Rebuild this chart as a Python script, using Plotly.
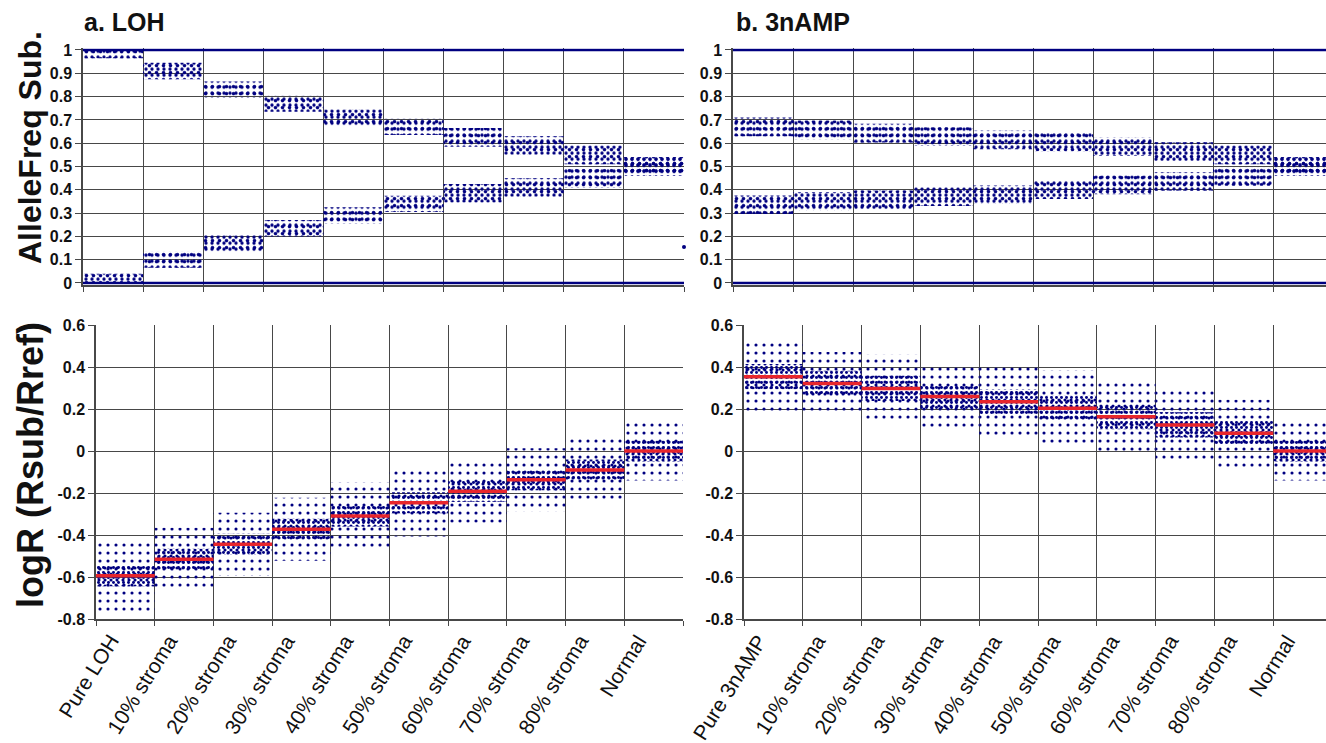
import plotly.graph_objects as go

# ---------------- data ----------------
categories_loh = ["Pure LOH", "10% stroma", "20% stroma", "30% stroma", "40% stroma",
                  "50% stroma", "60% stroma", "70% stroma", "80% stroma", "Normal"]
categories_amp = ["Pure 3nAMP", "10% stroma", "20% stroma", "30% stroma", "40% stroma",
                  "50% stroma", "60% stroma", "70% stroma", "80% stroma", "Normal"]

# B-allele frequency heterozygous clusters (centre and half-width of each cloud)
baf_loh_upper = [0.985, 0.91, 0.83, 0.77, 0.71, 0.67, 0.625, 0.59, 0.55, 0.50]
baf_loh_lower = [0.02, 0.10, 0.17, 0.235, 0.29, 0.34, 0.385, 0.41, 0.45, 0.50]
baf_loh_halfwidth = [0.02, 0.035, 0.035, 0.035, 0.035, 0.035, 0.04, 0.04, 0.04, 0.04]

baf_amp_upper = [0.67, 0.657, 0.643, 0.629, 0.614, 0.605, 0.586, 0.564, 0.55, 0.50]
baf_amp_lower = [0.336, 0.35, 0.357, 0.371, 0.379, 0.40, 0.421, 0.436, 0.457, 0.50]
baf_amp_halfwidth = [0.04, 0.04, 0.04, 0.04, 0.04, 0.04, 0.04, 0.04, 0.04, 0.04]

homozygous_levels = [0.0, 1.0]
baf_outlier_x = [10.0]
baf_outlier_y = [0.155]

# logR clouds: median (red line), dense core half-width, sparse outer half-width
logr_loh_median = [-0.594, -0.515, -0.444, -0.373, -0.31, -0.247, -0.192, -0.137, -0.09, 0.0]
logr_loh_core = [0.05, 0.05, 0.05, 0.05, 0.05, 0.05, 0.05, 0.05, 0.05, 0.05]
logr_loh_outer = [0.17, 0.15, 0.15, 0.15, 0.16, 0.16, 0.15, 0.15, 0.15, 0.14]

logr_amp_median = [0.354, 0.322, 0.298, 0.259, 0.235, 0.203, 0.163, 0.124, 0.084, 0.0]
logr_amp_core = [0.06, 0.06, 0.06, 0.06, 0.06, 0.06, 0.06, 0.06, 0.06, 0.05]
logr_amp_outer = [0.17, 0.15, 0.16, 0.16, 0.17, 0.18, 0.17, 0.17, 0.16, 0.14]

baf_tickvals = [0, 0.1, 0.2, 0.3, 0.4, 0.5, 0.6, 0.7, 0.8, 0.9, 1.0]
baf_ticktext = ["0", "0.1", "0.2", "0.3", "0.4", "0.5", "0.6", "0.7", "0.8", "0.9", "1"]
logr_tickvals = [-0.8, -0.6, -0.4, -0.2, 0, 0.2, 0.4, 0.6]
logr_ticktext = ["-0.8", "-0.6", "-0.4", "-0.2", "0", "0.2", "0.4", "0.6"]

# ---------------- styling ----------------
NAVY = "#000080"
RED = "#e8262c"
GRID = "#484848"
FONT = "Liberation Sans"
W, H = 1326, 743

fig = go.Figure()


def band(xa, ya, centres, halfw, lo_clip, hi_clip, size, solidity):
    n = len(centres)
    lo = [max(lo_clip, c - h) for c, h in zip(centres, halfw)]
    hi = [min(hi_clip, c + h) for c, h in zip(centres, halfw)]
    fig.add_trace(go.Bar(
        x=[i + 0.5 for i in range(n)], y=[b - a for a, b in zip(lo, hi)], base=lo,
        width=1.0, xaxis=xa, yaxis=ya, showlegend=False, hoverinfo="skip",
        marker=dict(color="rgba(0,0,0,0)", line=dict(width=0),
                    pattern=dict(shape=".", fgcolor=NAVY, fgopacity=1.0,
                                 bgcolor="rgba(0,0,0,0)",
                                 size=size, solidity=solidity, fillmode="overlay")),
    ))


def homozygous(xa, ya, n):
    for lev in homozygous_levels:
        fig.add_trace(go.Scatter(x=[0, n], y=[lev, lev], mode="lines", xaxis=xa, yaxis=ya,
                                 line=dict(color=NAVY, width=2.5), showlegend=False,
                                 hoverinfo="skip"))


def median_line(xa, ya, med):
    xs, ys = [], []
    for i, m in enumerate(med):
        xs += [i, i + 1, None]
        ys += [m, m, None]
    fig.add_trace(go.Scatter(x=xs, y=ys, mode="lines", xaxis=xa, yaxis=ya,
                             line=dict(color=RED, width=3.5), showlegend=False,
                             hoverinfo="skip"))


# top-left: LOH allele frequency
for cen in (baf_loh_upper, baf_loh_lower):
    band("x", "y", cen, baf_loh_halfwidth, 0, 1, 6, 0.24)
    band("x", "y", cen, baf_loh_halfwidth, 0, 1, 7, 0.2)
homozygous("x", "y", len(categories_loh))
fig.add_trace(go.Scatter(x=baf_outlier_x, y=baf_outlier_y, mode="markers", xaxis="x", yaxis="y",
                         marker=dict(color=NAVY, size=4), showlegend=False, cliponaxis=False,
                         hoverinfo="skip"))

# top-right: 3nAMP allele frequency
for cen in (baf_amp_upper, baf_amp_lower):
    band("x2", "y2", cen, baf_amp_halfwidth, 0, 1, 6, 0.24)
    band("x2", "y2", cen, baf_amp_halfwidth, 0, 1, 7, 0.2)
homozygous("x2", "y2", len(categories_amp))

# bottom-left: LOH logR
band("x3", "y3", logr_loh_median, logr_loh_outer, -0.8, 0.6, 8, 0.12)
band("x3", "y3", logr_loh_median, logr_loh_core, -0.8, 0.6, 5, 0.28)
band("x3", "y3", logr_loh_median, logr_loh_core, -0.8, 0.6, 6, 0.22)
median_line("x3", "y3", logr_loh_median)

# bottom-right: 3nAMP logR
band("x4", "y4", logr_amp_median, logr_amp_outer, -0.8, 0.6, 8, 0.12)
band("x4", "y4", logr_amp_median, logr_amp_core, -0.8, 0.6, 5, 0.28)
band("x4", "y4", logr_amp_median, logr_amp_core, -0.8, 0.6, 6, 0.22)
median_line("x4", "y4", logr_amp_median)


def px_x(a, b):
    return [a / W, min(1.0, b / W)]


def px_y(top, bottom):
    return [1 - bottom / H, 1 - top / H]


def xaxis(domain, rng, anchor):
    return dict(domain=domain, range=rng, anchor=anchor, fixedrange=True, automargin=False,
                tickmode="linear", tick0=0, dtick=1, showticklabels=False,
                ticks="outside", ticklen=5, tickcolor=GRID,
                showgrid=True, gridcolor=GRID, gridwidth=1.2,
                showline=True, linecolor=GRID, linewidth=1.5, zeroline=False)


def yaxis(domain, rng, anchor, tv, tt):
    return dict(domain=domain, range=rng, anchor=anchor, fixedrange=True, automargin=False,
                tickmode="array", tickvals=tv, ticktext=tt, ticks="outside", ticklen=6,
                tickcolor=GRID, showgrid=True, gridcolor=GRID, gridwidth=1.2,
                showline=True, linecolor=GRID, linewidth=1.5, zeroline=False,
                tickfont=dict(family=FONT, size=16, color="#111", weight="bold"))


baf_range = [-0.008, 1.008]
top_dom = px_y(50 - 0.008 * 233, 283 + 0.008 * 233)
bot_dom = px_y(325, 619)

annotations = [
    dict(text="<b>a. LOH</b>", x=82 / W, y=1 - 6 / H, xref="paper", yref="paper",
         xanchor="left", yanchor="top", showarrow=False,
         font=dict(family=FONT, size=25, color="#111")),
    dict(text="<b>b. 3nAMP</b>", x=734 / W, y=1 - 6 / H, xref="paper", yref="paper",
         xanchor="left", yanchor="top", showarrow=False,
         font=dict(family=FONT, size=25, color="#111")),
    dict(text="<b>AlleleFreq Sub.</b>", x=30 / W, y=1 - 148 / H, xref="paper", yref="paper",
         xanchor="center", yanchor="middle", textangle=-90, showarrow=False,
         font=dict(family=FONT, size=32, color="#111")),
    dict(text="<b>logR (Rsub/Rref)</b>", x=31 / W, y=1 - 465 / H, xref="paper", yref="paper",
         xanchor="center", yanchor="middle", textangle=-90, showarrow=False,
         font=dict(family=FONT, size=36, color="#111")),
]

# rotated category labels under the bottom panels, ending at each segment centre
label_y = 1 - 628 / H
for xref, cats in (("x3", categories_loh), ("x4", categories_amp)):
    for i, c in enumerate(cats):
        annotations.append(dict(text=c, x=i + 0.5, y=label_y, xref=xref, yref="paper",
                                xanchor="right", yanchor="top", textangle=-58,
                                showarrow=False,
                                font=dict(family=FONT, size=21, color="#111")))

fig.update_layout(
    width=W, height=H, margin=dict(l=0, r=0, t=0, b=0, autoexpand=False),
    paper_bgcolor="white", plot_bgcolor="white", barmode="overlay",
    xaxis=xaxis(px_x(83, 684), [0, 10], "y"),
    yaxis=yaxis(top_dom, baf_range, "x", baf_tickvals, baf_ticktext),
    xaxis2=xaxis(px_x(733, 1326), [0, (1326 - 733) / 60.0], "y2"),
    yaxis2=yaxis(top_dom, baf_range, "x2", baf_tickvals, baf_ticktext),
    xaxis3=xaxis(px_x(96, 683), [0, 10], "y3"),
    yaxis3=yaxis(bot_dom, [-0.8, 0.6], "x3", logr_tickvals, logr_ticktext),
    xaxis4=xaxis(px_x(744, 1326), [0, (1326 - 744) / 58.8], "y4"),
    yaxis4=yaxis(bot_dom, [-0.8, 0.6], "x4", logr_tickvals, logr_ticktext),
    annotations=annotations,
)

fig.write_html("out.html")
